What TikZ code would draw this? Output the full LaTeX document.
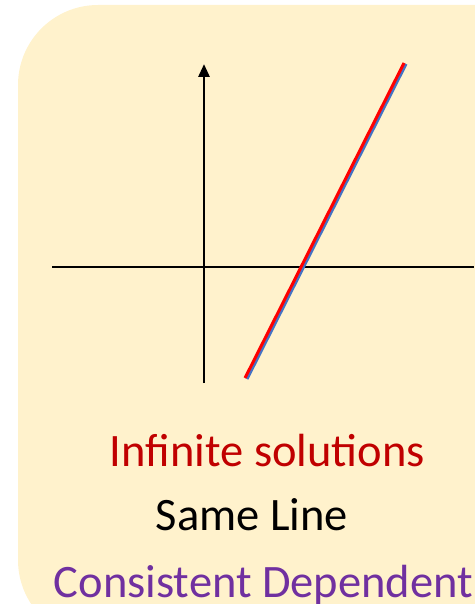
\documentclass[tikz,border=0pt]{standalone}
\usepackage{fontspec}
\setmainfont{Carlito}
\usepackage{xcolor}
\usepackage{tikz}
\usetikzlibrary{arrows.meta, positioning}
\definecolor{cream}{HTML}{FFF2CC}
\definecolor{solred}{HTML}{C00000}
\definecolor{dirblue}{HTML}{4472C4}
\definecolor{violet}{HTML}{7030A0}
\tikzstyle{axis}  = [line width=2.8pt, black]
\tikzstyle{label} = [font=\fontsize{46.5}{52}\selectfont, anchor=base, inner sep=0pt]

\begin{document}
\begin{tikzpicture}[x=1pt, y=-1pt]
  \useasboundingbox (0,0) rectangle (474,604);
  % Card
  \fill[cream, rounded corners=80pt] (18,5) rectangle (560,640);

  % Axes
  \draw[axis] (52,267) -- (474,267);
  \draw[axis, -{Triangle[length=13pt, width=11pt]}] (204,383) -- (204,64);

  % Same line twice
  \draw[dirblue, line width=3pt] (247,379) -- (406,64);
  \draw[red, line width=3pt] (245,378) -- (404,63);

  % Labels
  \node[label, text=solred] (inf)  at (267.5,466) {Infinite solutions};
  \node[label, text=black]  (same) at (252,530) {Same Line};
  \node[label, text=violet] (cons) at (263.5,597) {Consistent Dependent};
\end{tikzpicture}
\end{document}
